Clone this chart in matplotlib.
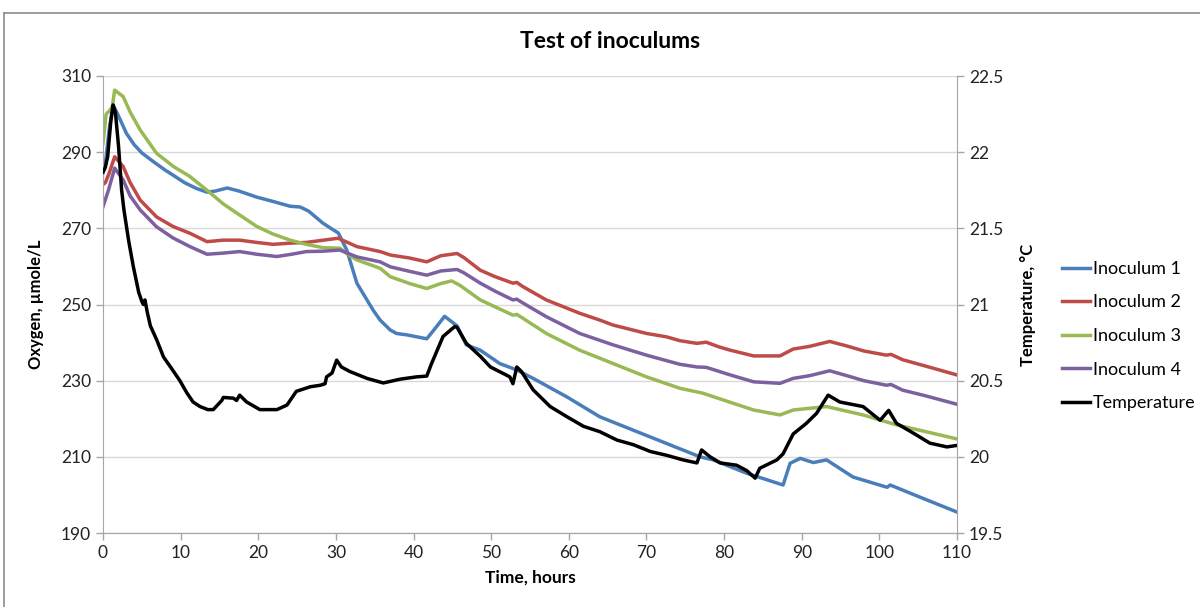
import matplotlib
matplotlib.use('Agg')
import matplotlib.pyplot as plt
from matplotlib.lines import Line2D

plt.rcParams['font.family'] = ['Lato', 'DejaVu Sans']

# Data
t1 = [0, 0.3, 0.8, 1.3, 2.0, 3.0, 4.0, 5.0, 6.5, 8.0, 9.0, 10.5, 12.0, 13.4, 14.5, 16.0, 17.5, 19.8,
      22.0, 24.1, 25.4, 26.5, 28.3, 29.5, 30.3, 31.4, 32.7, 34.8, 35.7, 37.0, 37.8, 39.2, 41.7, 42.5,
      44.0, 45.6, 46.8, 48.6, 51.1, 53.3, 55.4, 59.7, 64.0, 68.3, 72.6, 76.9, 78.6, 82.9, 87.6, 88.5,
      89.8, 91.5, 93.2, 96.6, 101.0, 101.4, 105.0, 110.0]
o1 = [284.5, 287.0, 296.0, 302.4, 299.5, 295.0, 292.0, 289.8, 287.5, 285.3, 284.0, 282.0, 280.5, 279.5,
      279.8, 280.6, 279.8, 278.2, 277.0, 275.8, 275.6, 274.5, 271.4, 269.8, 268.8, 264.3, 255.6, 248.5,
      245.9, 243.3, 242.4, 242.0, 241.0, 243.0, 246.9, 244.4, 239.4, 238.0, 234.5, 232.8, 230.6, 225.8,
      220.5, 217.0, 213.5, 210.0, 209.2, 205.7, 202.6, 208.3, 209.6, 208.5, 209.2, 204.7, 202.0, 202.6,
      199.6, 195.5]

t2 = [0, 0.3, 0.8, 1.5, 2.6, 3.5, 4.8, 6.9, 9.0, 11.2, 13.4, 15.5, 17.6, 19.8, 21.9, 24.0, 26.2, 28.4,
      30.3, 32.7, 35.7, 37.0, 39.5, 41.7, 43.5, 45.6, 46.5, 48.6, 50.5, 52.8, 53.3, 54.0, 57.1, 61.4,
      64.0, 65.7, 70.0, 72.6, 74.3, 76.5, 77.7, 79.3, 80.8, 83.8, 87.2, 88.9, 91.0, 93.6, 96.0, 98.0,
      100.9, 101.5, 103.0, 106.0, 110.0]
o2 = [281.5, 282.0, 284.5, 288.8, 286.2, 282.0, 277.4, 273.0, 270.5, 268.7, 266.5, 266.9, 266.9, 266.3,
      265.8, 266.1, 266.3, 266.9, 267.4, 265.2, 263.9, 263.0, 262.2, 261.2, 262.8, 263.4, 262.3, 259.0,
      257.3, 255.6, 255.8, 254.8, 251.2, 247.7, 245.9, 244.6, 242.4, 241.5, 240.5, 239.8, 240.1, 238.9,
      238.0, 236.5, 236.5, 238.3, 239.0, 240.3, 239.0, 237.8, 236.7, 236.9, 235.5, 233.8, 231.5]

t3 = [0, 0.4, 0.9, 1.2, 1.5, 2.6, 3.5, 4.8, 6.9, 9.1, 11.2, 13.4, 15.5, 17.6, 19.8, 21.9, 24.1, 26.2,
      28.4, 30.5, 31.4, 32.7, 35.7, 37.0, 39.5, 41.7, 43.5, 44.9, 46.0, 48.6, 52.8, 53.3, 54.0, 57.1,
      61.4, 65.7, 70.0, 74.3, 77.3, 78.6, 83.8, 87.2, 88.9, 93.2, 97.9, 102.2, 106.0, 110.0]
o3 = [292.3, 300.0, 301.0, 302.0, 306.3, 304.6, 300.5, 295.8, 289.7, 286.2, 283.6, 280.0, 276.4, 273.5,
      270.5, 268.5, 266.9, 265.8, 264.9, 264.8, 263.4, 261.7, 259.5, 257.3, 255.5, 254.2, 255.5, 256.2,
      255.0, 251.2, 247.2, 247.4, 246.5, 242.4, 238.0, 234.5, 231.0, 228.0, 226.7, 225.8, 222.3, 221.0,
      222.3, 223.2, 221.0, 218.4, 216.6, 214.7]

t4 = [0, 0.7, 1.5, 2.6, 3.5, 4.8, 6.9, 9.0, 11.2, 13.4, 15.5, 17.6, 19.8, 22.4, 24.3, 26.2, 28.4, 30.5,
      32.7, 35.7, 37.0, 39.5, 41.7, 43.5, 45.6, 46.5, 48.6, 50.5, 52.8, 53.3, 54.0, 57.1, 61.4, 65.7,
      70.0, 74.3, 76.5, 77.7, 80.8, 83.8, 87.2, 88.9, 91.0, 93.6, 96.0, 98.0, 100.9, 101.5, 103.0,
      106.0, 110.0]
o4 = [275.7, 280.0, 285.8, 282.7, 278.5, 274.8, 270.4, 267.5, 265.2, 263.2, 263.5, 263.9, 263.2, 262.6,
      263.2, 263.9, 264.0, 264.3, 262.5, 261.2, 259.9, 258.7, 257.7, 258.8, 259.2, 258.3, 255.6, 253.5,
      251.2, 251.4, 250.5, 246.8, 242.4, 239.4, 236.7, 234.3, 233.6, 233.5, 231.5, 229.7, 229.3, 230.6,
      231.3, 232.6, 231.2, 230.0, 228.8, 229.0, 227.5, 226.0, 223.8]

tt = [0, 0.3, 0.6, 1.0, 1.3, 1.6, 2.0, 2.4, 2.7, 3.3, 3.9, 4.6, 5.0, 5.2, 5.4, 5.7, 6.1, 6.9, 7.8, 9.1,
      9.9, 10.8, 11.6, 12.5, 13.5, 14.2, 15.3, 15.5, 16.8, 17.2, 17.6, 18.5, 20.2, 22.4, 23.7, 24.9,
      26.7, 28.0, 28.6, 28.8, 29.5, 30.1, 30.7, 31.8, 34.0, 36.1, 38.3, 40.4, 41.7, 42.3, 43.8, 45.3,
      45.6, 46.8, 48.6, 49.9, 52.4, 52.8, 53.3, 53.9, 55.4, 57.6, 59.7, 61.9, 64.0, 66.2, 68.3, 70.5,
      72.6, 74.7, 76.5, 77.1, 78.2, 79.5, 81.6, 82.9, 84.0, 84.6, 86.8, 87.6, 88.9, 90.6, 91.9, 93.4,
      94.9, 97.9, 100.1, 101.2, 102.2, 104.4, 106.5, 108.7, 110.0]
temp = [21.87, 21.90, 21.97, 22.20, 22.31, 22.26, 22.04, 21.75, 21.62, 21.42, 21.25, 21.08, 21.02, 21.00,
        21.03, 20.95, 20.86, 20.77, 20.655, 20.56, 20.50, 20.42, 20.36, 20.33, 20.31, 20.31, 20.37, 20.39,
        20.385, 20.37, 20.405, 20.36, 20.31, 20.31, 20.34, 20.43, 20.46, 20.47, 20.48, 20.525, 20.55,
        20.635, 20.59, 20.56, 20.515, 20.485, 20.51, 20.525, 20.53, 20.61, 20.79, 20.855, 20.85, 20.745,
        20.66, 20.59, 20.525, 20.48, 20.59, 20.56, 20.44, 20.33, 20.265, 20.20, 20.165, 20.11, 20.08,
        20.035, 20.01, 19.98, 19.96, 20.045, 20.0, 19.96, 19.945, 19.91, 19.86, 19.925, 19.98, 20.02,
        20.15, 20.22, 20.285, 20.405, 20.36, 20.33, 20.24, 20.305, 20.22, 20.155, 20.09, 20.065, 20.075]

labels = ['Inoculum 1', 'Inoculum 2', 'Inoculum 3', 'Inoculum 4', 'Temperature']
colors = ['#4A7EBB', '#BE4B48', '#98B954', '#7D60A0', '#000000']

fig = plt.figure(figsize=(12, 6.07), dpi=100)
ax = fig.add_axes([103 / 1200, 1 - 533 / 607, 854 / 1200, 457 / 607])
ax2 = ax.twinx()

lines = []
for t, o, lab, c in zip([t1, t2, t3, t4], [o1, o2, o3, o4], labels[:4], colors[:4]):
    ln, = ax.plot(t, o, color=c, lw=2.5, label=lab, solid_joinstyle='round')
    lines.append(ln)
ln, = ax2.plot(tt, temp, color=colors[4], lw=2.5, label=labels[4], solid_joinstyle='round')
lines.append(ln)

ax.set_xlim(0, 110)
ax.set_ylim(190, 310)
ax2.set_ylim(19.5, 22.5)
ax.set_xticks(range(0, 111, 10))
ax.set_yticks(range(190, 311, 20))
ax2.set_yticks([19.5, 20, 20.5, 21, 21.5, 22, 22.5])
ax2.set_yticklabels(['19.5', '20', '20.5', '21', '21.5', '22', '22.5'])

ax.grid(axis='y', color='#D9D9D9', lw=1)
ax.set_axisbelow(True)
for a in (ax, ax2):
    a.spines['top'].set_visible(False)
    for s in ('left', 'right', 'bottom'):
        a.spines[s].set_color('#A6A6A6')
    a.tick_params(colors='#A6A6A6', labelcolor='#222222', labelsize=12.5, length=5, width=1)
ax2.spines['left'].set_visible(False)
ax.spines['right'].set_visible(False)

ax.set_xlabel('Time, hours', fontsize=12.5, fontweight='bold', labelpad=6)
ax.set_ylabel('Oxygen, µmole/L', fontsize=12, fontweight='bold', labelpad=12)
ax2.set_ylabel('Temperature, °C', fontsize=12, fontweight='bold', labelpad=12)

fig.text(610 / 1200, 1 - 41 / 607, 'Test of inoculums', ha='center', va='center',
         fontsize=16.5, fontweight='bold')

fig.legend(lines, labels, loc='center left', bbox_to_anchor=(1062 / 1200, 1 - 336 / 607),
           frameon=False, fontsize=13, handlelength=1.55, handletextpad=0.15, labelspacing=0.97,
           borderaxespad=0, borderpad=0)

# chart border (top and left edges visible in the reference)
fig.add_artist(Line2D([4 / 1200, 1], [1 - 13 / 607, 1 - 13 / 607], color='#8C8C8C', lw=1.2))
fig.add_artist(Line2D([4 / 1200, 4 / 1200], [0, 1 - 13 / 607], color='#8C8C8C', lw=1.2))

fig.savefig('out.png', dpi=100)
